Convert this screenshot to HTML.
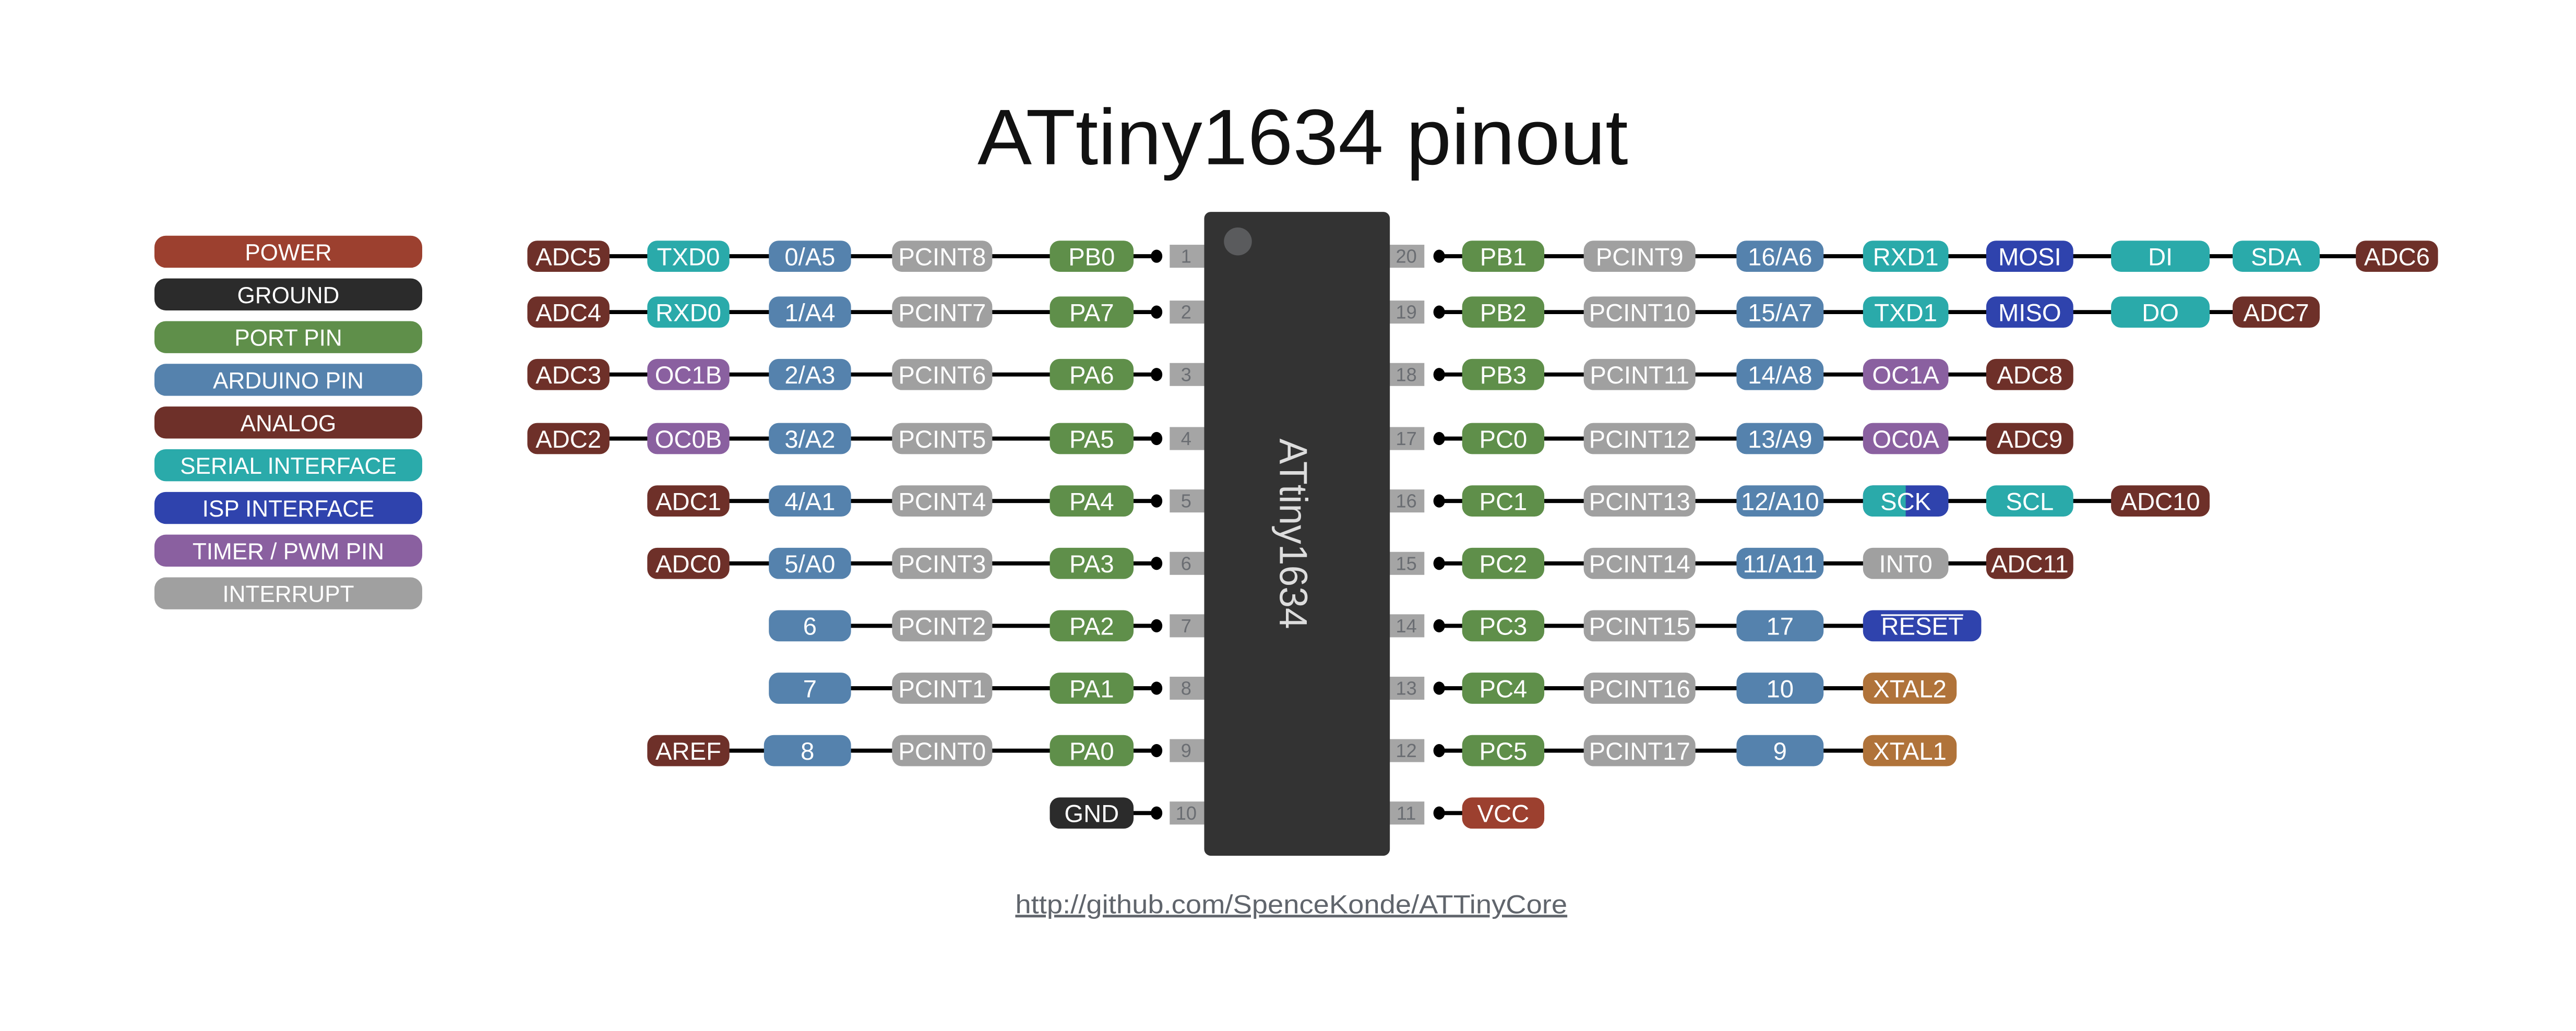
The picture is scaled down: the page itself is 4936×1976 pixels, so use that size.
<!DOCTYPE html>
<html><head><meta charset="utf-8"><style>
html,body{margin:0;padding:0;background:#fff;}
svg{display:block;}
text{font-family:"Liberation Sans",sans-serif;}
.l{fill:#fff;font-size:15px;text-anchor:middle;}
.g{fill:#fff;font-size:14px;text-anchor:middle;}
.n{fill:#6a6d72;font-size:11.5px;text-anchor:middle;}
</style></head><body>
<svg width="4936" height="1976" viewBox="0 0 1568 627.7" xmlns="http://www.w3.org/2000/svg">
<rect width="1568" height="628" fill="#fff"/>
<text x="793" y="100" font-size="48" text-anchor="middle" fill="#111" textLength="396" lengthAdjust="spacingAndGlyphs">ATtiny1634 pinout</text>

<g>
<rect x="94" y="143.5" width="163" height="19.5" rx="7" fill="#9c402f"/><text class="g" x="175.5" y="158.5">POWER</text>
<rect x="94" y="169.5" width="163" height="19.5" rx="7" fill="#2b2b2b"/><text class="g" x="175.5" y="184.5">GROUND</text>
<rect x="94" y="195.5" width="163" height="19.5" rx="7" fill="#5f8f4a"/><text class="g" x="175.5" y="210.5">PORT PIN</text>
<rect x="94" y="221.5" width="163" height="19.5" rx="7" fill="#5582ad"/><text class="g" x="175.5" y="236.5">ARDUINO PIN</text>
<rect x="94" y="247.5" width="163" height="19.5" rx="7" fill="#6e3029"/><text class="g" x="175.5" y="262.5">ANALOG</text>
<rect x="94" y="273.5" width="163" height="19.5" rx="7" fill="#2aaaaa"/><text class="g" x="175.5" y="288.5">SERIAL INTERFACE</text>
<rect x="94" y="299.5" width="163" height="19.5" rx="7" fill="#2f43ad"/><text class="g" x="175.5" y="314.5">ISP INTERFACE</text>
<rect x="94" y="325.5" width="163" height="19.5" rx="7" fill="#8a60a0"/><text class="g" x="175.5" y="340.5">TIMER / PWM PIN</text>
<rect x="94" y="351.5" width="163" height="19.5" rx="7" fill="#a0a0a0"/><text class="g" x="175.5" y="366.5">INTERRUPT</text>
</g>

<g stroke="#000" stroke-width="2.5">
<line x1="346" y1="156" x2="704" y2="156"/>
<line x1="346" y1="190" x2="704" y2="190"/>
<line x1="346" y1="228" x2="704" y2="228"/>
<line x1="346" y1="267" x2="704" y2="267"/>
<line x1="419" y1="305" x2="704" y2="305"/>
<line x1="419" y1="343" x2="704" y2="343"/>
<line x1="493" y1="381" x2="704" y2="381"/>
<line x1="493" y1="419" x2="704" y2="419"/>
<line x1="419" y1="457" x2="704" y2="457"/>
<line x1="664" y1="495" x2="704" y2="495"/>
<line x1="876" y1="156" x2="1459" y2="156"/>
<line x1="876" y1="190" x2="1385" y2="190"/>
<line x1="876" y1="228" x2="1235" y2="228"/>
<line x1="876" y1="267" x2="1235" y2="267"/>
<line x1="876" y1="305" x2="1315" y2="305"/>
<line x1="876" y1="343" x2="1235" y2="343"/>
<line x1="876" y1="381" x2="1170" y2="381"/>
<line x1="876" y1="419" x2="1160" y2="419"/>
<line x1="876" y1="457" x2="1160" y2="457"/>
<line x1="876" y1="495" x2="915" y2="495"/>
</g>
<g fill="#000">
<ellipse cx="704" cy="156" rx="3.5" ry="4"/><ellipse cx="704" cy="190" rx="3.5" ry="4"/><ellipse cx="704" cy="228" rx="3.5" ry="4"/><ellipse cx="704" cy="267" rx="3.5" ry="4"/><ellipse cx="704" cy="305" rx="3.5" ry="4"/><ellipse cx="704" cy="343" rx="3.5" ry="4"/><ellipse cx="704" cy="381" rx="3.5" ry="4"/><ellipse cx="704" cy="419" rx="3.5" ry="4"/><ellipse cx="704" cy="457" rx="3.5" ry="4"/><ellipse cx="704" cy="495" rx="3.5" ry="4"/>
<ellipse cx="876" cy="156" rx="3.5" ry="4"/><ellipse cx="876" cy="190" rx="3.5" ry="4"/><ellipse cx="876" cy="228" rx="3.5" ry="4"/><ellipse cx="876" cy="267" rx="3.5" ry="4"/><ellipse cx="876" cy="305" rx="3.5" ry="4"/><ellipse cx="876" cy="343" rx="3.5" ry="4"/><ellipse cx="876" cy="381" rx="3.5" ry="4"/><ellipse cx="876" cy="419" rx="3.5" ry="4"/><ellipse cx="876" cy="457" rx="3.5" ry="4"/><ellipse cx="876" cy="495" rx="3.5" ry="4"/>
</g>

<g fill="#a5a5a5">
<rect x="712" y="149" width="22" height="14"/><rect x="712" y="183" width="22" height="14"/><rect x="712" y="221" width="22" height="14"/><rect x="712" y="260" width="22" height="14"/><rect x="712" y="298" width="22" height="14"/><rect x="712" y="336" width="22" height="14"/><rect x="712" y="374" width="22" height="14"/><rect x="712" y="412" width="22" height="14"/><rect x="712" y="450" width="22" height="14"/><rect x="712" y="488" width="22" height="14"/>
<rect x="845" y="149" width="22" height="14"/><rect x="845" y="183" width="22" height="14"/><rect x="845" y="221" width="22" height="14"/><rect x="845" y="260" width="22" height="14"/><rect x="845" y="298" width="22" height="14"/><rect x="845" y="336" width="22" height="14"/><rect x="845" y="374" width="22" height="14"/><rect x="845" y="412" width="22" height="14"/><rect x="845" y="450" width="22" height="14"/><rect x="845" y="488" width="22" height="14"/>
</g>
<g>
<text class="n" x="722" y="160">1</text><text class="n" x="722" y="194">2</text><text class="n" x="722" y="232">3</text><text class="n" x="722" y="271">4</text><text class="n" x="722" y="309">5</text><text class="n" x="722" y="347">6</text><text class="n" x="722" y="385">7</text><text class="n" x="722" y="423">8</text><text class="n" x="722" y="461">9</text><text class="n" x="722" y="499">10</text>
<text class="n" x="856" y="160">20</text><text class="n" x="856" y="194">19</text><text class="n" x="856" y="232">18</text><text class="n" x="856" y="271">17</text><text class="n" x="856" y="309">16</text><text class="n" x="856" y="347">15</text><text class="n" x="856" y="385">14</text><text class="n" x="856" y="423">13</text><text class="n" x="856" y="461">12</text><text class="n" x="856" y="499">11</text>
</g>

<rect x="733" y="129" width="113" height="392" rx="4" fill="#333"/>
<circle cx="753.5" cy="147" r="8.5" fill="#5a5b5d"/>
<text x="0" y="0" font-size="24" fill="#ddd" text-anchor="middle" textLength="116" lengthAdjust="spacingAndGlyphs" transform="translate(779 325) rotate(90)">ATtiny1634</text>

<g>
<rect x="321" y="146.5" width="50" height="19" rx="6" fill="#6e3029"/><text class="l" x="346" y="161.5">ADC5</text>
<rect x="394" y="146.5" width="50" height="19" rx="6" fill="#2aaaaa"/><text class="l" x="419" y="161.5">TXD0</text>
<rect x="468" y="146.5" width="50" height="19" rx="6" fill="#5582ad"/><text class="l" x="493" y="161.5">0/A5</text>
<rect x="543" y="146.5" width="61" height="19" rx="6" fill="#a0a0a0"/><text class="l" x="573.5" y="161.5">PCINT8</text>
<rect x="639" y="146.5" width="51" height="19" rx="6" fill="#5f8f4a"/><text class="l" x="664.5" y="161.5">PB0</text>
<rect x="321" y="180.5" width="50" height="19" rx="6" fill="#6e3029"/><text class="l" x="346" y="195.5">ADC4</text>
<rect x="394" y="180.5" width="50" height="19" rx="6" fill="#2aaaaa"/><text class="l" x="419" y="195.5">RXD0</text>
<rect x="468" y="180.5" width="50" height="19" rx="6" fill="#5582ad"/><text class="l" x="493" y="195.5">1/A4</text>
<rect x="543" y="180.5" width="61" height="19" rx="6" fill="#a0a0a0"/><text class="l" x="573.5" y="195.5">PCINT7</text>
<rect x="639" y="180.5" width="51" height="19" rx="6" fill="#5f8f4a"/><text class="l" x="664.5" y="195.5">PA7</text>
<rect x="321" y="218.5" width="50" height="19" rx="6" fill="#6e3029"/><text class="l" x="346" y="233.5">ADC3</text>
<rect x="394" y="218.5" width="50" height="19" rx="6" fill="#8a60a0"/><text class="l" x="419" y="233.5">OC1B</text>
<rect x="468" y="218.5" width="50" height="19" rx="6" fill="#5582ad"/><text class="l" x="493" y="233.5">2/A3</text>
<rect x="543" y="218.5" width="61" height="19" rx="6" fill="#a0a0a0"/><text class="l" x="573.5" y="233.5">PCINT6</text>
<rect x="639" y="218.5" width="51" height="19" rx="6" fill="#5f8f4a"/><text class="l" x="664.5" y="233.5">PA6</text>
<rect x="321" y="257.5" width="50" height="19" rx="6" fill="#6e3029"/><text class="l" x="346" y="272.5">ADC2</text>
<rect x="394" y="257.5" width="50" height="19" rx="6" fill="#8a60a0"/><text class="l" x="419" y="272.5">OC0B</text>
<rect x="468" y="257.5" width="50" height="19" rx="6" fill="#5582ad"/><text class="l" x="493" y="272.5">3/A2</text>
<rect x="543" y="257.5" width="61" height="19" rx="6" fill="#a0a0a0"/><text class="l" x="573.5" y="272.5">PCINT5</text>
<rect x="639" y="257.5" width="51" height="19" rx="6" fill="#5f8f4a"/><text class="l" x="664.5" y="272.5">PA5</text>
<rect x="394" y="295.5" width="50" height="19" rx="6" fill="#6e3029"/><text class="l" x="419" y="310.5">ADC1</text>
<rect x="468" y="295.5" width="50" height="19" rx="6" fill="#5582ad"/><text class="l" x="493" y="310.5">4/A1</text>
<rect x="543" y="295.5" width="61" height="19" rx="6" fill="#a0a0a0"/><text class="l" x="573.5" y="310.5">PCINT4</text>
<rect x="639" y="295.5" width="51" height="19" rx="6" fill="#5f8f4a"/><text class="l" x="664.5" y="310.5">PA4</text>
<rect x="394" y="333.5" width="50" height="19" rx="6" fill="#6e3029"/><text class="l" x="419" y="348.5">ADC0</text>
<rect x="468" y="333.5" width="50" height="19" rx="6" fill="#5582ad"/><text class="l" x="493" y="348.5">5/A0</text>
<rect x="543" y="333.5" width="61" height="19" rx="6" fill="#a0a0a0"/><text class="l" x="573.5" y="348.5">PCINT3</text>
<rect x="639" y="333.5" width="51" height="19" rx="6" fill="#5f8f4a"/><text class="l" x="664.5" y="348.5">PA3</text>
<rect x="468" y="371.5" width="50" height="19" rx="6" fill="#5582ad"/><text class="l" x="493" y="386.5">6</text>
<rect x="543" y="371.5" width="61" height="19" rx="6" fill="#a0a0a0"/><text class="l" x="573.5" y="386.5">PCINT2</text>
<rect x="639" y="371.5" width="51" height="19" rx="6" fill="#5f8f4a"/><text class="l" x="664.5" y="386.5">PA2</text>
<rect x="468" y="409.5" width="50" height="19" rx="6" fill="#5582ad"/><text class="l" x="493" y="424.5">7</text>
<rect x="543" y="409.5" width="61" height="19" rx="6" fill="#a0a0a0"/><text class="l" x="573.5" y="424.5">PCINT1</text>
<rect x="639" y="409.5" width="51" height="19" rx="6" fill="#5f8f4a"/><text class="l" x="664.5" y="424.5">PA1</text>
<rect x="394" y="447.5" width="50" height="19" rx="6" fill="#6e3029"/><text class="l" x="419" y="462.5">AREF</text>
<rect x="465" y="447.5" width="53" height="19" rx="6" fill="#5582ad"/><text class="l" x="491.5" y="462.5">8</text>
<rect x="543" y="447.5" width="61" height="19" rx="6" fill="#a0a0a0"/><text class="l" x="573.5" y="462.5">PCINT0</text>
<rect x="639" y="447.5" width="51" height="19" rx="6" fill="#5f8f4a"/><text class="l" x="664.5" y="462.5">PA0</text>
<rect x="639" y="485.5" width="51" height="19" rx="6" fill="#2b2b2b"/><text class="l" x="664.5" y="500.5">GND</text>
</g>

<g>
<rect x="890" y="146.5" width="50" height="19" rx="6" fill="#5f8f4a"/><text class="l" x="915" y="161.5">PB1</text>
<rect x="964" y="146.5" width="68" height="19" rx="6" fill="#a0a0a0"/><text class="l" x="998" y="161.5">PCINT9</text>
<rect x="1057" y="146.5" width="53" height="19" rx="6" fill="#5582ad"/><text class="l" x="1083.5" y="161.5">16/A6</text>
<rect x="1134" y="146.5" width="52" height="19" rx="6" fill="#2aaaaa"/><text class="l" x="1160" y="161.5">RXD1</text>
<rect x="1209" y="146.5" width="53" height="19" rx="6" fill="#2f43ad"/><text class="l" x="1235.5" y="161.5">MOSI</text>
<rect x="1285" y="146.5" width="60" height="19" rx="6" fill="#2aaaaa"/><text class="l" x="1315" y="161.5">DI</text>
<rect x="1359" y="146.5" width="53" height="19" rx="6" fill="#2aaaaa"/><text class="l" x="1385.5" y="161.5">SDA</text>
<rect x="1434" y="146.5" width="50" height="19" rx="6" fill="#6e3029"/><text class="l" x="1459" y="161.5">ADC6</text>
<rect x="890" y="180.5" width="50" height="19" rx="6" fill="#5f8f4a"/><text class="l" x="915" y="195.5">PB2</text>
<rect x="964" y="180.5" width="68" height="19" rx="6" fill="#a0a0a0"/><text class="l" x="998" y="195.5">PCINT10</text>
<rect x="1057" y="180.5" width="53" height="19" rx="6" fill="#5582ad"/><text class="l" x="1083.5" y="195.5">15/A7</text>
<rect x="1134" y="180.5" width="52" height="19" rx="6" fill="#2aaaaa"/><text class="l" x="1160" y="195.5">TXD1</text>
<rect x="1209" y="180.5" width="53" height="19" rx="6" fill="#2f43ad"/><text class="l" x="1235.5" y="195.5">MISO</text>
<rect x="1285" y="180.5" width="60" height="19" rx="6" fill="#2aaaaa"/><text class="l" x="1315" y="195.5">DO</text>
<rect x="1359" y="180.5" width="53" height="19" rx="6" fill="#6e3029"/><text class="l" x="1385.5" y="195.5">ADC7</text>
<rect x="890" y="218.5" width="50" height="19" rx="6" fill="#5f8f4a"/><text class="l" x="915" y="233.5">PB3</text>
<rect x="964" y="218.5" width="68" height="19" rx="6" fill="#a0a0a0"/><text class="l" x="998" y="233.5">PCINT11</text>
<rect x="1057" y="218.5" width="53" height="19" rx="6" fill="#5582ad"/><text class="l" x="1083.5" y="233.5">14/A8</text>
<rect x="1134" y="218.5" width="52" height="19" rx="6" fill="#8a60a0"/><text class="l" x="1160" y="233.5">OC1A</text>
<rect x="1209" y="218.5" width="53" height="19" rx="6" fill="#6e3029"/><text class="l" x="1235.5" y="233.5">ADC8</text>
<rect x="890" y="257.5" width="50" height="19" rx="6" fill="#5f8f4a"/><text class="l" x="915" y="272.5">PC0</text>
<rect x="964" y="257.5" width="68" height="19" rx="6" fill="#a0a0a0"/><text class="l" x="998" y="272.5">PCINT12</text>
<rect x="1057" y="257.5" width="53" height="19" rx="6" fill="#5582ad"/><text class="l" x="1083.5" y="272.5">13/A9</text>
<rect x="1134" y="257.5" width="52" height="19" rx="6" fill="#8a60a0"/><text class="l" x="1160" y="272.5">OC0A</text>
<rect x="1209" y="257.5" width="53" height="19" rx="6" fill="#6e3029"/><text class="l" x="1235.5" y="272.5">ADC9</text>
<rect x="890" y="295.5" width="50" height="19" rx="6" fill="#5f8f4a"/><text class="l" x="915" y="310.5">PC1</text>
<rect x="964" y="295.5" width="68" height="19" rx="6" fill="#a0a0a0"/><text class="l" x="998" y="310.5">PCINT13</text>
<rect x="1057" y="295.5" width="53" height="19" rx="6" fill="#5582ad"/><text class="l" x="1083.5" y="310.5">12/A10</text>
<rect x="1134" y="295.5" width="52" height="19" rx="6" fill="#2f43ad"/>
<path d="M1140 295.5 H1160 V314.5 H1140 A6 6 0 0 1 1134 308.5 V301.5 A6 6 0 0 1 1140 295.5 Z" fill="#2aaaaa"/>
<text class="l" x="1160" y="310.5">SCK</text>
<rect x="1209" y="295.5" width="53" height="19" rx="6" fill="#2aaaaa"/><text class="l" x="1235.5" y="310.5">SCL</text>
<rect x="1285" y="295.5" width="60" height="19" rx="6" fill="#6e3029"/><text class="l" x="1315" y="310.5">ADC10</text>
<rect x="890" y="333.5" width="50" height="19" rx="6" fill="#5f8f4a"/><text class="l" x="915" y="348.5">PC2</text>
<rect x="964" y="333.5" width="68" height="19" rx="6" fill="#a0a0a0"/><text class="l" x="998" y="348.5">PCINT14</text>
<rect x="1057" y="333.5" width="53" height="19" rx="6" fill="#5582ad"/><text class="l" x="1083.5" y="348.5">11/A11</text>
<rect x="1134" y="333.5" width="52" height="19" rx="6" fill="#a0a0a0"/><text class="l" x="1160" y="348.5">INT0</text>
<rect x="1209" y="333.5" width="53" height="19" rx="6" fill="#6e3029"/><text class="l" x="1235.5" y="348.5">ADC11</text>
<rect x="890" y="371.5" width="50" height="19" rx="6" fill="#5f8f4a"/><text class="l" x="915" y="386.5">PC3</text>
<rect x="964" y="371.5" width="68" height="19" rx="6" fill="#a0a0a0"/><text class="l" x="998" y="386.5">PCINT15</text>
<rect x="1057" y="371.5" width="53" height="19" rx="6" fill="#5582ad"/><text class="l" x="1083.5" y="386.5">17</text>
<rect x="1134" y="371.5" width="72" height="19" rx="6" fill="#2f43ad"/><text class="l" x="1170" y="386.5">RESET</text>
<line x1="1145" y1="374.5" x2="1195" y2="374.5" stroke="#fff" stroke-width="1"/>
<rect x="890" y="409.5" width="50" height="19" rx="6" fill="#5f8f4a"/><text class="l" x="915" y="424.5">PC4</text>
<rect x="964" y="409.5" width="68" height="19" rx="6" fill="#a0a0a0"/><text class="l" x="998" y="424.5">PCINT16</text>
<rect x="1057" y="409.5" width="53" height="19" rx="6" fill="#5582ad"/><text class="l" x="1083.5" y="424.5">10</text>
<rect x="1134" y="409.5" width="57" height="19" rx="6" fill="#b0733a"/><text class="l" x="1162.5" y="424.5">XTAL2</text>
<rect x="890" y="447.5" width="50" height="19" rx="6" fill="#5f8f4a"/><text class="l" x="915" y="462.5">PC5</text>
<rect x="964" y="447.5" width="68" height="19" rx="6" fill="#a0a0a0"/><text class="l" x="998" y="462.5">PCINT17</text>
<rect x="1057" y="447.5" width="53" height="19" rx="6" fill="#5582ad"/><text class="l" x="1083.5" y="462.5">9</text>
<rect x="1134" y="447.5" width="57" height="19" rx="6" fill="#b0733a"/><text class="l" x="1162.5" y="462.5">XTAL1</text>
<rect x="890" y="485.5" width="50" height="19" rx="6" fill="#9c402f"/><text class="l" x="915" y="500.5">VCC</text>
</g>

<text x="786" y="556" font-size="16" fill="#60656c" text-anchor="middle" text-decoration="underline" textLength="336" lengthAdjust="spacingAndGlyphs">http://github.com/SpenceKonde/ATTinyCore</text>
</svg>
</body></html>
